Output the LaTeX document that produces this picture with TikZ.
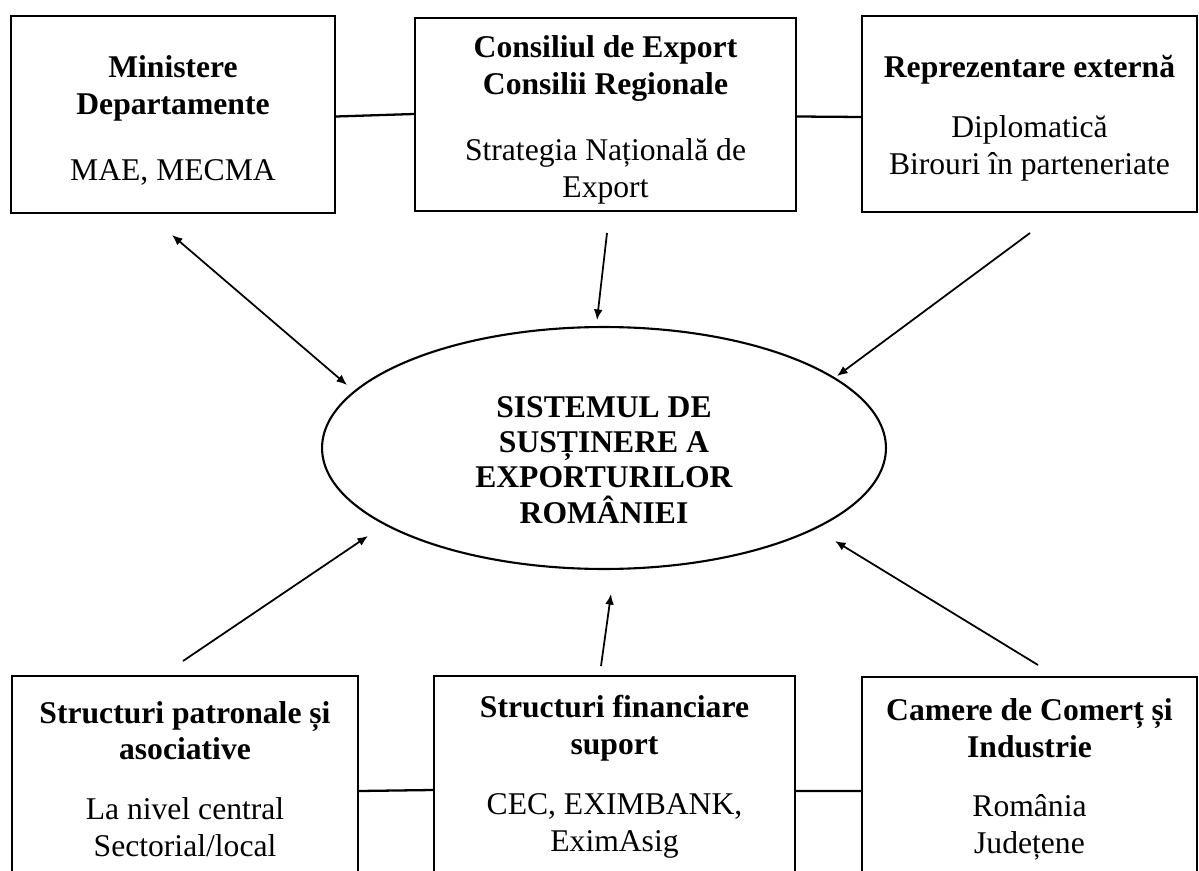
\documentclass[tikz,border=0pt]{standalone}
\usepackage{fontspec}
\setmainfont{Liberation Serif}
\usetikzlibrary{arrows.meta,shapes.geometric,calc}
\begin{document}
\begin{tikzpicture}[x=0.02cm,y=-0.02cm,
  box/.style={draw,line width=1.2pt,rectangle,inner sep=0pt},
  txt/.style={inner sep=0pt,align=center,font=\fontsize{18}{21}\selectfont},
  ell/.style={draw,line width=1.2pt,ellipse,inner sep=0pt},
  etxt/.style={inner sep=0pt,align=center,font=\fontsize{18}{20}\selectfont},
  arr/.style={line width=1pt,-{Latex[length=6pt,width=5pt]}},
  darr/.style={line width=1pt,{Latex[length=6pt,width=5pt]}-{Latex[length=6pt,width=5pt]}},
  link/.style={line width=1.3pt}]
\useasboundingbox (0,0) rectangle (1199,871);
\clip (0,0) rectangle (1199,871);
\fill[white] (0,0) rectangle (1199,871);
% top boxes
\node[box,minimum width=6.48cm,minimum height=3.94cm] (b1) at (173,114.5) {};
\node[box,minimum width=7.62cm,minimum height=3.86cm] (b2) at (605.5,114.5) {};
\node[box,minimum width=6.7cm,minimum height=3.92cm] (b3) at (1029.5,114) {};
\node[txt] (t1) at (173,120.5)
  {\textbf{Ministere}\\\textbf{Departamente}\\[17pt]MAE, MECMA};
\node[txt] (t2) at (605.5,120)
  {\textbf{Consiliul de Export}\\\textbf{Consilii Regionale}\\[17pt]Strategia Națională de\\Export};
\node[txt] (t3) at (1029.5,118)
  {\textbf{Reprezentare externă}\\[13pt]Diplomatică\\Birouri în parteneriate};
% bottom boxes
\node[box,minimum width=6.92cm,minimum height=4.12cm] (b4) at (185,779) {};
\node[box,minimum width=7.22cm,minimum height=4.12cm] (b5) at (614.5,779) {};
\node[box,minimum width=6.7cm,minimum height=4.1cm] (b6) at (1029.5,779.5) {};
\node[txt] (t4) at (185,779)
  {\textbf{Structuri patronale și}\\\textbf{asociative}\\[13pt]La nivel central\\Sectorial/local};
\node[txt] (t5) at (614.5,777)
  {\textbf{Structuri financiare}\\\textbf{suport}\\[13pt]CEC, EXIMBANK,\\EximAsig};
\node[txt] (t6) at (1029.5,779.5)
  {\textbf{Camere de Comerț și}\\\textbf{Industrie}\\[13pt]România\\Județene};
% ellipse
\node[ell,minimum width=11.28cm,minimum height=4.84cm] (e) at (604,448) {};
\node[etxt] (et) at (604,460)
  {\textbf{SISTEMUL DE}\\\textbf{SUSȚINERE A}\\\textbf{EXPORTURILOR}\\\textbf{ROMÂNIEI}};
% links between boxes
\draw[link] ($(b1.east)+(0,2)$) -- ($(b2.west)+(0,-0.5)$);
\draw[link] ($(b2.east)+(0,2)$) -- ($(b3.west)+(0,3)$);
\draw[link] ($(b4.east)+(0,12)$) -- ($(b5.west)+(0,11)$);
\draw[link] ($(b5.east)+(0,12)$) -- ($(b6.west)+(0,11.5)$);
% arrow ends
\coordinate (a1s) at (172,235); \coordinate (a1e) at (347,385);
\coordinate (a2s) at (607,233); \coordinate (a2e) at (597,320);
\coordinate (a3s) at (1030,233); \coordinate (a3e) at (837,376);
\coordinate (a4s) at (183,661); \coordinate (a4e) at (368,536);
\coordinate (a5s) at (601,666); \coordinate (a5e) at (611,594);
\coordinate (a6s) at (1038,665); \coordinate (a6e) at (835,541);
\draw[darr] (a1s) -- (a1e);
\draw[arr] (a2s) -- (a2e);
\draw[arr] (a3s) -- (a3e);
\draw[arr] (a4s) -- (a4e);
\draw[arr] (a5s) -- (a5e);
\draw[arr] (a6s) -- (a6e);
\end{tikzpicture}
\end{document}
